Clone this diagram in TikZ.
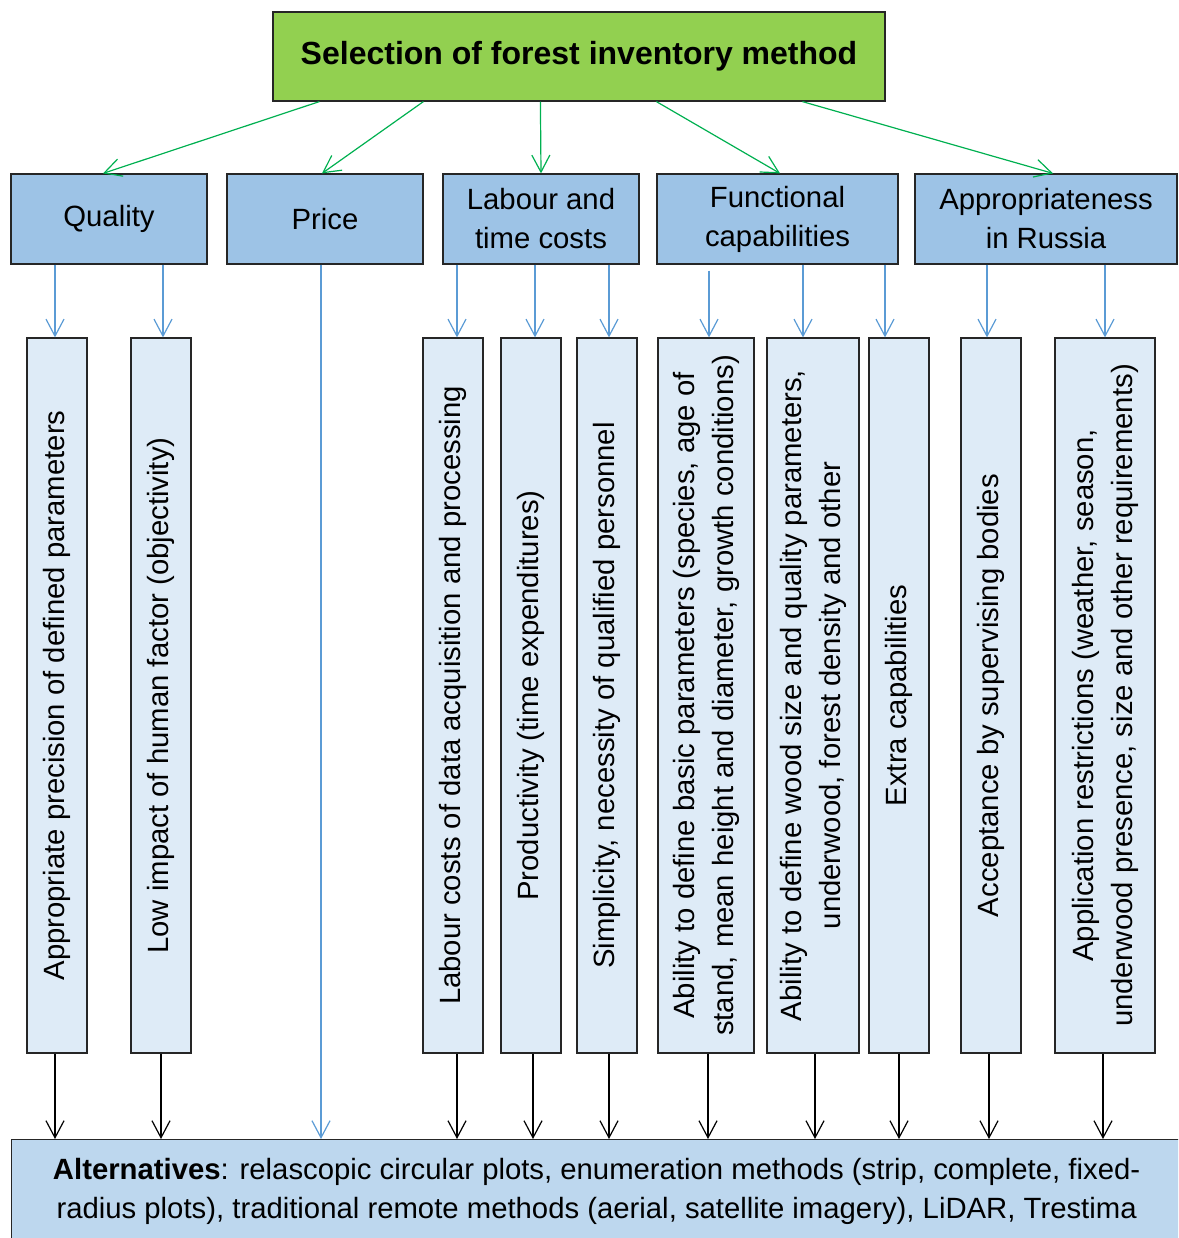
\documentclass[tikz,border=0pt]{standalone}
\usepackage{fontspec}
\setmainfont{Liberation Sans}
\usepackage{graphicx}
\usetikzlibrary{arrows.meta}

\definecolor{titlegreen}{HTML}{92D050}
\definecolor{catblue}{HTML}{9DC3E6}
\definecolor{itemblue}{HTML}{DEEBF7}
\definecolor{altblue}{HTML}{BDD7EE}
\definecolor{linkblue}{HTML}{5B9BD5}
\definecolor{linkgreen}{HTML}{00B050}
\definecolor{edgegray}{HTML}{262626}

% vertical (rotated) multi-line label
\newcommand{\vlabel}[1]{\rotatebox{90}{\begin{tabular}{@{}c@{}}#1\end{tabular}}}

\begin{document}
\begin{tikzpicture}[x=1pt,y=-1pt,
  box/.style={draw=edgegray, line width=1.2pt, inner sep=0pt, align=center,
              font=\fontsize{29.3}{39}\selectfont},
  titlebox/.style={box, fill=titlegreen, minimum width=612pt, minimum height=89pt,
              font=\fontsize{32}{38}\selectfont\bfseries},
  catbox/.style={box, fill=catblue, minimum height=90pt},
  itembox/.style={box, fill=itemblue, minimum height=715pt},
  altbox/.style={box, fill=altblue},
  tipv/.style={-{Straight Barb[length=17pt,width=18pt]}},
  glink/.style={tipv, draw=linkgreen, line width=1.2pt},
  blink/.style={tipv, draw=linkblue, line width=1.2pt},
  klink/.style={tipv, draw=black, line width=1.2pt}]

\path[use as bounding box] (0,0) rectangle (1178,1238);
\clip (0,0) rectangle (1178,1238);

% top level
\node[titlebox] (t) at (579,56.5) {Selection of forest inventory method};

% criteria
\node[catbox, minimum width=196pt] (q) at (109,219) {Quality};
\node[catbox, minimum width=196pt] (p) at (325,219) {Price};
\node[catbox, minimum width=196pt] (l) at (541,219) {Labour and\\time costs};
\node[catbox, minimum width=241pt] (f) at (777.5,219) {Functional\\capabilities};
\node[catbox, minimum width=262pt] (a) at (1046,219) {Appropriateness\\in Russia};

% sub-criteria
\node[itembox, minimum width=60pt]  (v1)  at (57,695.5)   {\vlabel{Appropriate precision of defined parameters}};
\node[itembox, minimum width=60pt]  (v2)  at (161,695.5)  {\vlabel{Low impact of human factor (objectivity)}};
\node[itembox, minimum width=60pt]  (v3)  at (453,695.5)  {\vlabel{Labour costs of data acquisition and processing}};
\node[itembox, minimum width=60pt]  (v4)  at (531,695.5)  {\vlabel{Productivity (time expenditures)}};
\node[itembox, minimum width=60pt]  (v5)  at (607,695.5)  {\vlabel{Simplicity, necessity of qualified personnel}};
\node[itembox, minimum width=96pt]  (v6)  at (706,695.5)  {\vlabel{Ability to define basic parameters (species, age of\\stand, mean height and diameter, growth conditions)}};
\node[itembox, minimum width=92pt]  (v7)  at (813,695.5)  {\vlabel{Ability to define wood size and quality parameters,\\underwood, forest density and other}};
\node[itembox, minimum width=60pt]  (v8)  at (899,695.5)  {\vlabel{Extra capabilities}};
\node[itembox, minimum width=60pt]  (v9)  at (991,695.5)  {\vlabel{Acceptance by supervising bodies}};
\node[itembox, minimum width=100pt] (v10) at (1105,695.5) {\vlabel{Application restrictions (weather, season,\\underwood presence, size and other requirements)}};

% alternatives
\node[altbox, minimum width=1170pt, minimum height=104pt, anchor=north west] (alt) at (11,1139)
  {\textbf{Alternatives}: relascopic circular plots, enumeration methods (strip, complete, fixed-\\radius plots), traditional remote methods (aerial, satellite imagery), LiDAR, Trestima};

% links from the top level to the criteria
\draw[glink] ([xshift=47pt]t.south west)  -- ([xshift=-6pt]q.north);
\draw[glink] ([xshift=151pt]t.south west) -- ([xshift=-3pt]p.north);
\draw[glink] ([xshift=268pt]t.south west) -- (l.north);
\draw[glink] ([xshift=384pt]t.south west) -- ([xshift=2.5pt]f.north);
\draw[glink] ([xshift=530pt]t.south west) -- ([xshift=7pt]a.north);

% links from the criteria to the sub-criteria
\coordinate (b1)  at ([xshift=-2pt]v1.north);
\coordinate (b2)  at ([xshift=2pt]v2.north);
\coordinate (b3)  at ([xshift=4pt]v3.north);
\coordinate (b4)  at ([xshift=4pt]v4.north);
\coordinate (b5)  at ([xshift=2pt]v5.north);
\coordinate (b6)  at ([xshift=3pt]v6.north);
\coordinate (b7)  at ([xshift=-10pt]v7.north);
\coordinate (b8)  at ([xshift=-14pt]v8.north);
\coordinate (b9)  at ([xshift=-4pt]v9.north);
\coordinate (b10) at (v10.north);
\draw[blink] (b1 |- q.south) -- (b1);
\draw[blink] (b2 |- q.south) -- (b2);
\draw[blink] (b3 |- l.south) -- (b3);
\draw[blink] (b4 |- l.south) -- (b4);
\draw[blink] (b5 |- l.south) -- (b5);
\draw[blink] ([yshift=-6pt]b6 |- f.south) -- (b6);
\draw[blink] (b7 |- f.south) -- (b7);
\draw[blink] (b8 |- f.south) -- (b8);
\draw[blink] (b9 |- a.south) -- (b9);
\draw[blink] (b10 |- a.south) -- (b10);

% price goes straight to the alternatives
\coordinate (pr) at ([xshift=-4pt]p.south);
\draw[blink] (pr) -- (pr |- alt.north);

% links from the sub-criteria to the alternatives
\coordinate (k1)  at ([xshift=-2pt]v1.south);
\coordinate (k2)  at (v2.south);
\coordinate (k3)  at ([xshift=4pt]v3.south);
\coordinate (k4)  at ([xshift=2pt]v4.south);
\coordinate (k5)  at ([xshift=2pt]v5.south);
\coordinate (k6)  at ([xshift=2pt]v6.south);
\coordinate (k7)  at ([xshift=2pt]v7.south);
\coordinate (k8)  at (v8.south);
\coordinate (k9)  at ([xshift=-2pt]v9.south);
\coordinate (k10) at ([xshift=-2pt]v10.south);
\foreach \k in {k1,k2,k3,k4,k5,k6,k7,k8,k9,k10}
  \draw[klink] (\k) -- (\k |- alt.north);

\end{tikzpicture}
\end{document}
